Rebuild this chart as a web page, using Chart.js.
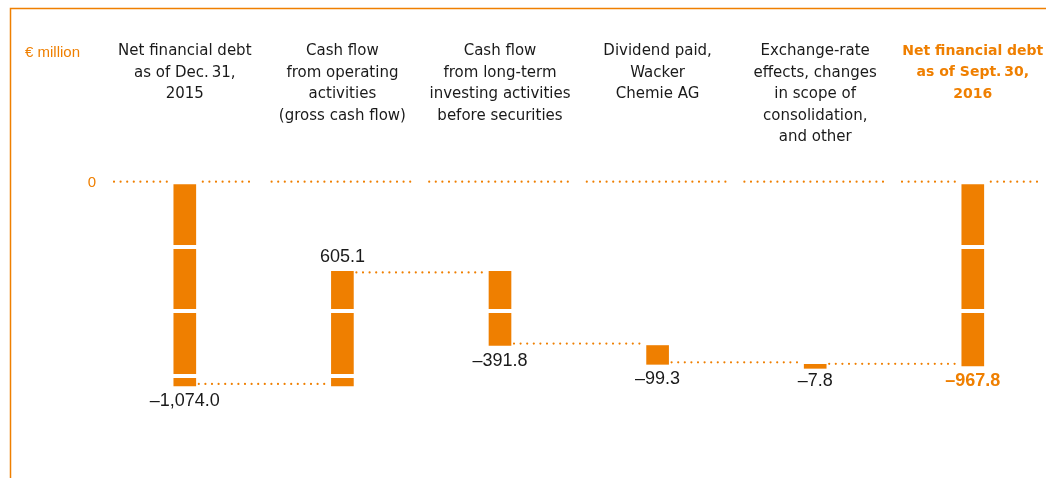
<!DOCTYPE html>
<html>
<head>
<meta charset="utf-8">
<script src="https://cdn.jsdelivr.net/npm/chart.js@4"></script>
<style>
  html, body { margin: 0; padding: 0; background: #fff; overflow: hidden; }
  #wrap { width: 1046px; height: 478px; position: relative; }
</style>
</head>
<body>
<div id="wrap"><canvas id="chart"></canvas></div>
<script>
// data (€ million)
const categories = [
  ["Net financial debt", "as of Dec.\u200931,", "2015"],
  ["Cash flow", "from operating", "activities", "(gross cash flow)"],
  ["Cash flow", "from long-term", "investing activities", "before securities"],
  ["Dividend paid,", "Wacker", "Chemie AG"],
  ["Exchange-rate", "effects, changes", "in scope of", "consolidation,", "and other"],
  ["Net financial debt", "as of Sept.\u200930,", "2016"]
];
const values = [-1074.0, 605.1, -391.8, -99.3, -7.8, -967.8];
const isTotal = [true, false, false, false, false, true];
const breakLevels = [-340, -680, -1020];
const unitLabel = "€ million";

const orange = "#ef7f00";
const ink = "#1a1a1a";

// floating ranges of the waterfall
let running = 0;
const ranges = values.map((v, i) => {
  if (isTotal[i]) { running = v; return [0, v]; }
  const from = running;
  running = Math.round((running + v) * 10) / 10;
  return [from, running];
});

function fmt(v) {
  const s = Math.abs(v).toLocaleString("en-US", { minimumFractionDigits: 1, maximumFractionDigits: 1 });
  return (v < 0 ? "\u2013" : "") + s;
}

function dotted(ctx, x1, x2, y) {
  ctx.save();
  ctx.strokeStyle = orange;
  ctx.lineWidth = 2.2;
  ctx.lineCap = "round";
  ctx.setLineDash([0, 6.6]);
  ctx.beginPath();
  ctx.moveTo(x1, y);
  ctx.lineTo(x2, y);
  ctx.stroke();
  ctx.restore();
}

const waterfallExtras = {
  id: "waterfallExtras",
  afterDraw(chart) {
    const { ctx, scales: { x, y } } = chart;
    const half = 11;
    const catHalf = (x.getPixelForValue(1) - x.getPixelForValue(0)) / 2;
    const y0 = y.getPixelForValue(0);

    // frame
    ctx.save();
    ctx.strokeStyle = orange;
    ctx.lineWidth = 1.5;
    ctx.beginPath();
    ctx.moveTo(10.5, chart.height);
    ctx.lineTo(10.5, 8.5);
    ctx.lineTo(chart.width, 8.5);
    ctx.stroke();
    ctx.restore();

    // unit
    ctx.save();
    ctx.fillStyle = orange;
    ctx.font = "15px 'Liberation Sans', Arial, sans-serif";
    ctx.textBaseline = "alphabetic";
    ctx.fillText(unitLabel, 25, 57);
    ctx.restore();

    // zero line, broken per column
    categories.forEach((c, i) => {
      const cx = x.getPixelForValue(i);
      const l = cx - catHalf + 8, r = cx + catHalf - 8;
      if (isTotal[i]) {
        dotted(ctx, l, cx - half - 6, y0 - 1);
        dotted(ctx, cx + half + 7, r, y0 - 1);
      } else {
        dotted(ctx, l, r, y0 - 1);
      }
    });

    // connectors
    for (let i = 0; i < ranges.length - 1; i++) {
      const lvl = ranges[i][1];
      const xa = x.getPixelForValue(i) + half + 3;
      const xb = x.getPixelForValue(i + 1) - half - 2;
      const py = y.getPixelForValue(lvl);
      const down = lvl < ranges[i][0] || isTotal[i];
      dotted(ctx, xa, xb, py + (down ? -2 : 1));
    }

    // value labels
    ctx.save();
    ctx.textAlign = "center";
    ctx.textBaseline = "middle";
    values.forEach((v, i) => {
      const last = i === values.length - 1;
      ctx.fillStyle = last ? orange : ink;
      ctx.font = (last ? "bold " : "") + "18px 'Liberation Sans', Arial, sans-serif";
      const cx = x.getPixelForValue(i);
      const lo = Math.min(...ranges[i]), hi = Math.max(...ranges[i]);
      if (v < 0) {
        ctx.fillText(fmt(v), cx, y.getPixelForValue(lo) + 15);
      } else {
        ctx.fillText(fmt(v), cx, y.getPixelForValue(hi) - 14);
      }
    });
    ctx.restore();
  }
};

new Chart(document.getElementById("chart"), {
  type: "bar",
  data: {
    datasets: [{
      data: ranges.map((r, i) => ({ x: i, y: r })),
      backgroundColor: orange,
      borderWidth: 0,
      barThickness: 22,
      minBarLength: 4
    }]
  },
  options: {
    responsive: true,
    maintainAspectRatio: false,
    animation: false,
    layout: { padding: { top: 0, left: 0, right: 0, bottom: 38 } },
    plugins: { legend: { display: false }, tooltip: { enabled: false } },
    scales: {
      x: {
        type: "linear",
        position: "top",
        offset: false,
        min: -0.5,
        max: 5.4645,
        grid: { display: false, offset: false },
        border: { display: false },
        afterBuildTicks: (s) => { s.ticks = categories.map((c, i) => ({ value: i })); },
        afterFit: (s) => { s.height = 160; s.paddingLeft = 0; s.paddingRight = 0; },
        ticks: {
          autoSkip: false,
          maxRotation: 0,
          minRotation: 0,
          crossAlign: "far",
          padding: 4,
          callback: (value, index) => categories[index],
          color: (c) => c.index === categories.length - 1 ? orange : ink,
          font: (c) => c.index === categories.length - 1
            ? { family: "'DejaVu Sans', sans-serif", size: 14, weight: "bold", lineHeight: 21.5 / 14 }
            : { family: "'DejaVu Sans', sans-serif", size: 15, weight: "normal", lineHeight: 21.5 / 15 }
        }
      },
      y: {
        min: -1360,
        max: 120,
        border: { display: false },
        afterBuildTicks: (s) => { s.ticks = [0, ...breakLevels].map(v => ({ value: v })); },
        afterFit: (s) => { s.width = 106; s.paddingTop = 0; s.paddingBottom = 0; },
        grid: {
          z: 1,
          lineWidth: 4,
          drawTicks: false,
          color: (c) => c.tick && c.tick.value === 0 ? "rgba(0,0,0,0)" : "#ffffff"
        },
        ticks: {
          autoSkip: false,
          padding: 10,
          color: orange,
          font: { family: "'Liberation Sans', Arial, sans-serif", size: 15 },
          callback: (v) => v === 0 ? "0" : ""
        }
      }
    }
  },
  plugins: [waterfallExtras]
});
</script>
</body>
</html>
